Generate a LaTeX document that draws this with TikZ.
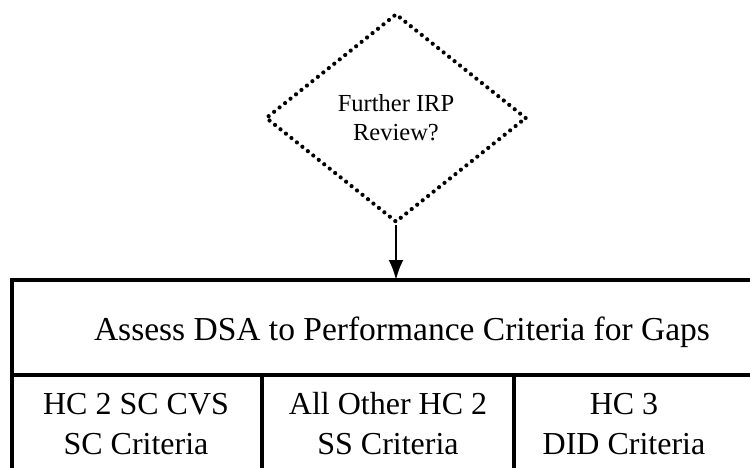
\documentclass[tikz,border=0pt]{standalone}
\usepackage{fontspec}
\setmainfont{Liberation Serif}
\usetikzlibrary{shapes.geometric,arrows.meta}
\tikzset{
    decision/.style={
        diamond, draw, line width=4.2pt, line cap=round,
        dash pattern=on 0pt off 7pt,
        minimum width=261pt, minimum height=209pt, inner sep=0pt,
        align=center, font=\fontsize{24.5}{29}\selectfont
    },
    celltext/.style={
        align=center, font=\fontsize{32}{40}\selectfont
    },
    grid/.style={line width=3.2pt},
    flow/.style={-{Latex[length=20pt,width=15pt]}, line width=2.6pt}
}

\begin{document}
\begin{tikzpicture}[x=1pt,y=-1pt]
		\useasboundingbox (0,0) rectangle (750,468);
		\clip (0,0) rectangle (750,468);

		% Decision
		\node[decision] (review) at (396,118) {Further IRP\\Review?};
		\coordinate (boxtop) at (396,280);
		\draw[flow] (review.south) -- (boxtop);

		% Criteria table
		\draw[grid] (12,480) -- (12,280) -- (760,280);
		\draw[grid] (12,375) -- (760,375);
		\foreach \x in {262,514}
			\draw[grid] (\x,375) -- (\x,480);

		\node[celltext, font=\fontsize{33.5}{40}\selectfont] (assess) at (402,332) {Assess DSA to Performance Criteria for Gaps};
		\node[celltext] (sccvs) at (136,424) {HC 2 SC CVS\\SC Criteria};
		\node[celltext] (otherhc) at (388,424) {All Other HC 2\\SS Criteria};
		\node[celltext] (hcthree) at (624,424) {HC 3\\DID Criteria};
	\end{tikzpicture}
\end{document}
